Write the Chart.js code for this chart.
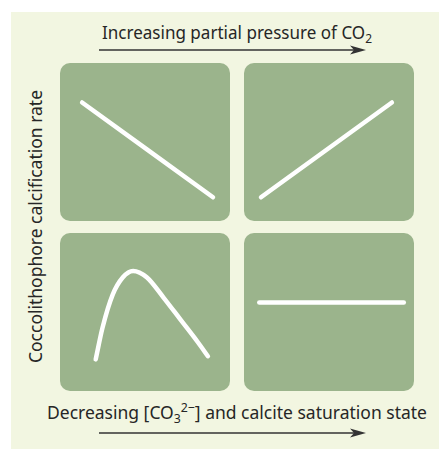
<!DOCTYPE html>
<html>
<head>
<meta charset="utf-8">
<script src="https://cdn.jsdelivr.net/npm/chart.js@4"></script>
<style>
  html, body { margin:0; padding:0; background:#ffffff; }
  body { width:439px; height:449px; position:relative; overflow:hidden; }
  #bg { position:absolute; left:11px; top:12px; width:428px; height:437px; background:#f2f6e1; }
  .panel { position:absolute; width:170px; height:158px; background:#9bb48c; border-radius:10px; }
  .panel canvas { display:block; }
  .lbl { position:absolute; font-family:"Noto Sans","Open Sans",sans-serif; font-size:18.5px; color:#262626; white-space:nowrap; line-height:1; transform-origin:0 0; }
  .lbl sub, .lbl sup { font-size:13px; line-height:0; }
  .lbl sub { vertical-align:-4px; }
  .lbl sup { vertical-align:7px; }
  svg { position:absolute; left:0; top:0; }
</style>
</head>
<body>
<div id="bg"></div>
<div id="t1" class="lbl" style="left:102px; top:22.6px;" data-w="270">Increasing partial pressure of CO<sub>2</sub></div>
<div id="t2" class="lbl" style="left:47px; top:402.6px;" data-w="380">Decreasing [CO<sub>3</sub><sup>2&#8722;</sup>] and calcite saturation state</div>
<div id="t3" class="lbl" style="left:25.6px; top:363px;" data-w="273" data-rot="1">Coccolithophore calcification rate</div>
<svg width="439" height="449">
  <line x1="99" y1="50" x2="356" y2="50" stroke="#333" stroke-width="1.4"/>
  <polygon points="366,50 350,45.5 354,50 350,54.5" fill="#333"/>
  <line x1="99" y1="433" x2="356" y2="433" stroke="#333" stroke-width="1.4"/>
  <polygon points="366,433 350,428.5 354,433 350,437.5" fill="#333"/>
</svg>
<div class="panel" style="left:60px; top:63px;"><canvas id="c1" width="170" height="158"></canvas></div>
<div class="panel" style="left:244px; top:63px;"><canvas id="c2" width="170" height="158"></canvas></div>
<div class="panel" style="left:60px; top:233px;"><canvas id="c3" width="170" height="158"></canvas></div>
<div class="panel" style="left:244px; top:233px;"><canvas id="c4" width="170" height="158"></canvas></div>
<script>
// Arbitrary units 0-100: x = increasing pCO2, y = calcification rate
const decreasingX = [13, 90];
const decreasingY = [75, 15];
const increasingX = [10, 87];
const increasingY = [15, 75];
const optimumX = [21, 25, 31, 37, 43, 51, 61, 71, 81, 87];
const optimumY = [20, 40, 61, 72, 76, 72, 59, 45, 31, 22];
const flatX = [9, 94];
const flatY = [56, 56];

// fit label widths
document.querySelectorAll('.lbl').forEach(el => {
  const w = el.getBoundingClientRect().width;
  const s = parseFloat(el.dataset.w) / w;
  el.style.transform = (el.dataset.rot ? 'rotate(-90deg) ' : '') + 'scaleX(' + s + ')';
});

function pts(xs, ys) { return xs.map((x, i) => ({ x: x, y: ys[i] })); }

function panel(id, xs, ys, tension) {
  new Chart(document.getElementById(id), {
    type: 'line',
    data: { datasets: [{
      data: pts(xs, ys),
      borderColor: '#ffffff',
      borderWidth: 4.5,
      borderCapStyle: 'round',
      borderJoinStyle: 'round',
      pointRadius: 0,
      tension: tension,
      cubicInterpolationMode: 'monotone',
      fill: false,
      clip: false
    }]},
    options: {
      responsive: false,
      animation: false,
      events: [],
      layout: { padding: 0 },
      scales: {
        x: { type: 'linear', min: 0, max: 100, display: false },
        y: { type: 'linear', min: 0, max: 100, display: false }
      },
      plugins: { legend: { display: false }, tooltip: { enabled: false }, title: { display: false } }
    }
  });
}
panel('c1', decreasingX, decreasingY, 0);
panel('c2', increasingX, increasingY, 0);
panel('c3', optimumX, optimumY, 0.4);
panel('c4', flatX, flatY, 0);
</script>
</body>
</html>
